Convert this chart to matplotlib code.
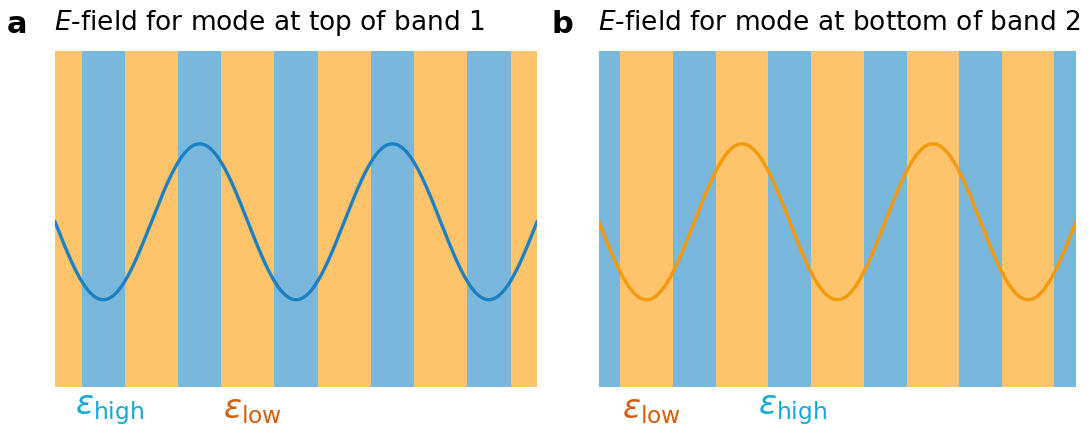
import matplotlib
matplotlib.use("Agg")
import matplotlib.pyplot as plt
import numpy as np

plt.rcParams["mathtext.fontset"] = "dejavusans"

# layer layout, in units of the lattice period
n_periods = 5
high_width = 0.45
# centres of the high-epsilon (blue) layers in each panel
high_centres_a = [0.5, 1.5, 2.5, 3.5, 4.5]
high_centres_b = [0.0, 1.0, 2.0, 3.0, 4.0, 5.0]

titles = ["E-field for mode at top of band 1", "E-field for mode at bottom of band 2"]
panel_letters = ["a", "b"]

col_low = "#FDC46B"
col_high = "#7AB7DC"
line_cols = ["#1B80C4", "#F5980A"]
lab_high_col = "#14A9D6"
lab_low_col = "#D55E0F"

x = np.linspace(0, n_periods, 600)
field = -np.sin(np.pi * x)

fig = plt.figure(figsize=(10.88, 4.27), dpi=100)
axes = [fig.add_axes([0.0506, 0.0913, 0.4430, 0.7867]),
        fig.add_axes([0.5505, 0.0913, 0.4384, 0.7867])]

for i, (ax, centres) in enumerate(zip(axes, [high_centres_a, high_centres_b])):
    ax.axvspan(0, n_periods, color=col_low, lw=0)
    for c in centres:
        ax.axvspan(c - high_width / 2, c + high_width / 2, color=col_high, lw=0)
    ax.plot(x, field, color=line_cols[i], lw=2.4)
    ax.set_xlim(0, n_periods)
    ax.set_ylim(-2.12, 2.19)
    ax.axis("off")
    ax.text(-0.003, 1.088, r"$\mathit{E}$" + titles[i][1:], transform=ax.transAxes,
            fontsize=19, va="center", ha="left", family="DejaVu Sans")
    fig.text(ax.get_position().x0 - 0.044, 0.943, panel_letters[i],
             fontsize=22, fontweight="bold", va="center", ha="left")

# epsilon labels under the layers
lab_y = -2.4
axes[0].text(0.57, lab_y, r"$\varepsilon_{\mathrm{high}}$", color=lab_high_col,
             fontsize=24, ha="center", va="center")
axes[0].text(2.05, lab_y, r"$\varepsilon_{\mathrm{low}}$", color=lab_low_col,
             fontsize=24, ha="center", va="center")
axes[1].text(0.55, lab_y, r"$\varepsilon_{\mathrm{low}}$", color=lab_low_col,
             fontsize=24, ha="center", va="center")
axes[1].text(2.03, lab_y, r"$\varepsilon_{\mathrm{high}}$", color=lab_high_col,
             fontsize=24, ha="center", va="center")

fig.savefig("out.png", dpi=100)
